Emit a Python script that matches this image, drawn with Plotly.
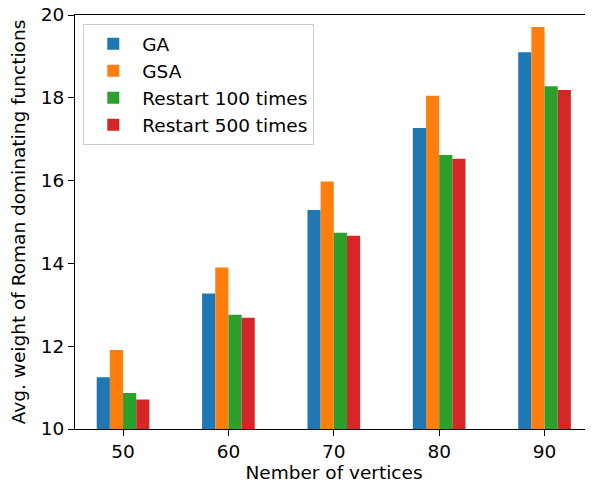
import plotly.graph_objects as go

categories = ["50", "60", "70", "80", "90"]
ga = [11.25, 13.27, 15.29, 17.27, 19.10]
gsa = [11.91, 13.90, 15.98, 18.05, 19.71]
restart100 = [10.87, 12.76, 14.74, 16.62, 18.28]
restart500 = [10.71, 12.69, 14.67, 16.53, 18.19]

series_names = ["GA", "GSA", "Restart 100 times", "Restart 500 times"]
series_values = [ga, gsa, restart100, restart500]
colors = ["#1f77b4", "#ff7f0e", "#2ca02c", "#d62728"]

FONT = "DejaVu Sans"
FS = 18.5

fig = go.Figure()
for i, (name, vals, col) in enumerate(zip(series_names, series_values, colors)):
    fig.add_trace(go.Bar(
        x=categories, y=vals, name=name,
        marker=dict(color=col, line=dict(width=0)),
        legendgroup=f"g{i}",
    ))

fig.update_layout(
    width=585, height=477,
    margin=dict(l=67, r=0, t=7, b=56),
    paper_bgcolor="white", plot_bgcolor="white",
    barmode="group", bargap=0.5, bargroupgap=0,
    font=dict(family=FONT, size=FS, color="black"),
    showlegend=True,
    legend=dict(
        x=0.016, y=0.978, xanchor="left", yanchor="top",
        bgcolor="rgba(255,255,255,0.8)", bordercolor="#cccccc", borderwidth=1,
        font=dict(family=FONT, size=FS, color="black"),
        tracegroupgap=3, traceorder="normal", itemwidth=48,
    ),
    xaxis=dict(
        type="category", range=[-0.456, 4.46], automargin=False,
        showline=True, linecolor="black", linewidth=1, mirror=True,
        ticks="outside", ticklen=6, tickcolor="black",
        showgrid=False, zeroline=False, ticklabeloverflow="allow",
        title=dict(text="Nember of vertices", font=dict(family=FONT, size=FS), standoff=4),
    ),
    yaxis=dict(
        range=[10, 20], tickvals=[10, 12, 14, 16, 18, 20], automargin=False,
        showline=True, linecolor="black", linewidth=1,
        ticks="outside", ticklen=6, tickcolor="black",
        showgrid=False, zeroline=False, ticklabeloverflow="allow",
        title=dict(text="Avg. weight of Roman dominating functions", font=dict(family=FONT, size=FS), standoff=14),
    ),
)

fig.write_html("out.html", config={"displayModeBar": False})
